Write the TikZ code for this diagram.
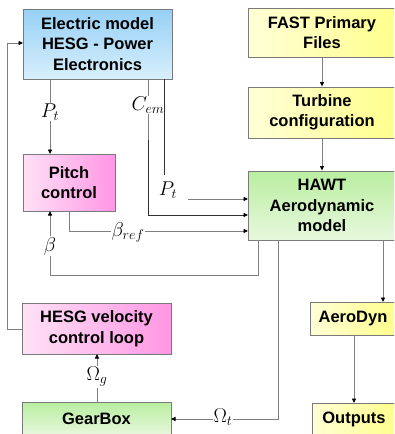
\documentclass[tikz,border=0pt]{standalone}
\usepackage{fix-cm}
\usepackage{fontspec}
\setmainfont{Liberation Sans}
\usetikzlibrary{arrows.meta}
\definecolor{ln}{HTML}{808080}
\definecolor{dk}{HTML}{303030}
\definecolor{bx}{HTML}{7A7A7A}
\tikzset{
  box/.style={draw=bx, line width=0.9pt, align=center, inner sep=0pt,
    font=\fontsize{16.5}{20.5}\selectfont\bfseries},
  bluebox/.style={box, top color={rgb,255:red,150;green,208;blue,245}, bottom color={rgb,255:red,216;green,239;blue,252}},
  yelbox/.style={box, left color={rgb,255:red,255;green,255;blue,215}, right color={rgb,255:red,255;green,255;blue,140}},
  pinkbox/.style={box, left color={rgb,255:red,255;green,225;blue,246}, right color={rgb,255:red,255;green,150;blue,228}},
  grnbox/.style={box, top color={rgb,255:red,185;green,238;blue,160}, bottom color={rgb,255:red,232;green,248;blue,222}},
  conn/.style={draw=ln, line width=0.9pt},
  dconn/.style={draw=dk, line width=0.9pt},
  tip/.style={-{Triangle[length=4.5pt,width=4pt,color=black]}},
  lab/.style={fill=white, inner sep=1pt, font=\fontsize{20}{22}\selectfont}
}
\begin{document}
\begin{tikzpicture}[x=1pt,y=-1pt]
\useasboundingbox (0,0) rectangle (394,434);
\clip (0,0) rectangle (394,434);
% boxes
\node[bluebox, minimum width=149pt, minimum height=70pt] (elec) at (97.5,44) {Electric model\\HESG - Power\\Electronics};
\node[yelbox, minimum width=148pt, minimum height=49pt] (fast) at (322,32.5) {FAST Primary\\Files};
\node[yelbox, minimum width=148pt, minimum height=51pt] (turb) at (322,112.5) {Turbine\\configuration};
\node[grnbox, minimum width=148pt, minimum height=69pt] (hawt) at (322,205.5) {HAWT\\Aerodynamic\\model};
\node[pinkbox, minimum width=92pt, minimum height=57pt] (pitch) at (69,182.5) {Pitch\\control};
\node[pinkbox, minimum width=149pt, minimum height=51pt] (hesg) at (96.5,328.5) {HESG velocity\\control loop};
\node[grnbox, minimum width=149pt, minimum height=34pt] (gear) at (96.5,419) {GearBox};
\node[yelbox, minimum width=86pt, minimum height=33pt] (aero) at (353,318.5) {AeroDyn};
\node[yelbox, minimum width=84pt, minimum height=32pt] (outp) at (354,419) {Outputs};
% coordinates
\coordinate (e1) at (50,79);
\coordinate (p1) at (50,154);
\coordinate (e2) at (148,79);
\coordinate (c2) at (148,215);
\coordinate (h2) at (248,215);
\coordinate (e3) at (164,79);
\coordinate (e3b) at (164,175);
\coordinate (pt3) at (188,199);
\coordinate (h3) at (248,199);
\coordinate (p2) at (69,211);
\coordinate (c4) at (69,231);
\coordinate (h4) at (248,231);
\coordinate (hb1) at (258,240);
\coordinate (c5) at (258,275);
\coordinate (c6) at (50,275);
\coordinate (p3) at (50,211);
\coordinate (hb2) at (278,240);
\coordinate (c7) at (278,419);
\coordinate (g1) at (171,419);
\coordinate (hb3) at (383,240);
\coordinate (a1) at (383,302);
\coordinate (a2) at (354,335);
\coordinate (o1) at (354,403);
\coordinate (g2) at (97,402);
\coordinate (hs1) at (97,354);
\coordinate (hs2) at (22,329);
\coordinate (c8) at (7,329);
\coordinate (c9) at (7,43);
\coordinate (e4) at (23,43);
% connectors
\draw[conn,tip] (fast.south) -- (turb.north);
\draw[conn,tip] (turb.south) -- (hawt.north);
\draw[conn,tip] (e1) -- (p1);
\node[lab] (lpt1) at (50,112) {$P_t$};
\draw[conn] (e2) -- (148,140);
\draw[dconn,tip] (148,140) -- (c2) -- (h2);
\node[lab] (lcem) at (148,105) {$C_{em}$};
\draw[dconn] (e3) -- (e3b);
\draw[conn,tip] (pt3) -- (h3);
\node[inner sep=1pt, font=\fontsize{20}{22}\selectfont] (lpt2) at (168,190) {$P_t$};
\draw[conn,tip] (p2) -- (c4) -- (h4);
\node[lab] (lbref) at (128,232) {$\beta_{ref}$};
\draw[conn,tip] (hb1) -- (c5) -- (c6) -- (p3);
\node[lab] (lb) at (50,246) {$\beta$};
\draw[conn,tip] (hb2) -- (c7) -- (g1);
\node[lab] (lot) at (223,417) {$\Omega_t$};
\draw[conn,tip] (hb3) -- (a1);
\draw[conn,tip] (a2) -- (o1);
\draw[conn,tip] (g2) -- (hs1);
\node[lab] (log) at (97,377) {$\Omega_g$};
\draw[conn,tip] (hs2) -- (c8) -- (c9) -- (e4);
\end{tikzpicture}
\end{document}
